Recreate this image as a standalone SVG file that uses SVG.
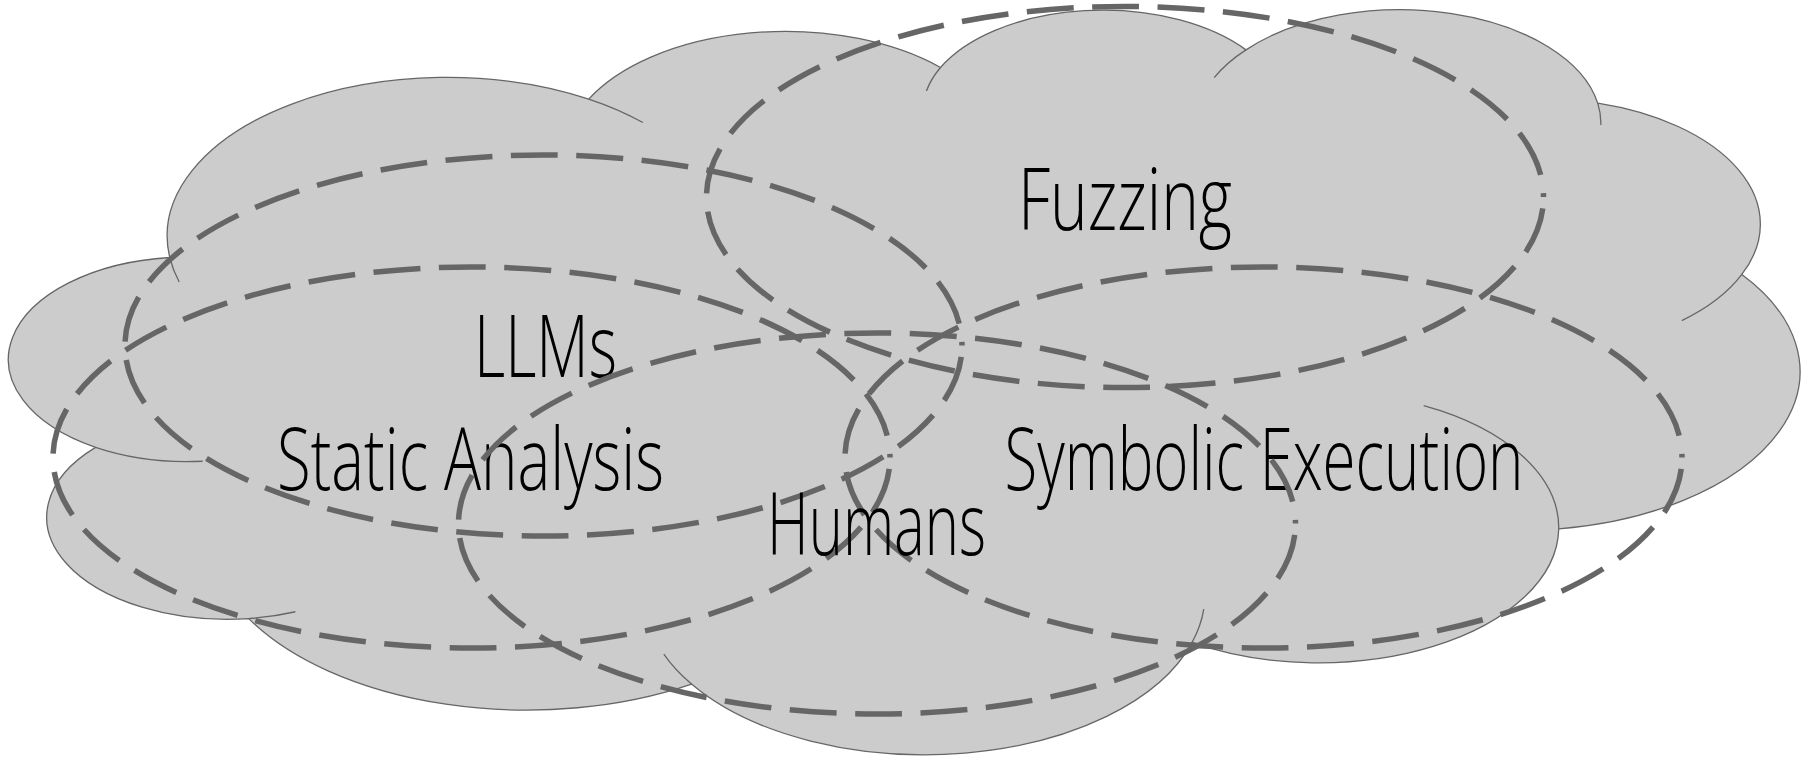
<svg xmlns="http://www.w3.org/2000/svg" width="1811" height="760" viewBox="0 0 1811 760">
  <style>
    .cloud-body { fill: #cccccc; stroke: #666666; stroke-width: 1.3; }
    .cloud-fold { fill: none; stroke: #666666; stroke-width: 1.3; }
    .set { fill: none; stroke: #666666; stroke-width: 5.5; stroke-dasharray: 47 18.5; stroke-dashoffset: 54; stroke-linecap: butt; }
    .label { font-family: "Open Sans", "Liberation Sans", sans-serif; font-weight: 300; font-size: 87px; fill: #000000; }
  </style>

  <!-- background cloud, built in a 43200 x 43200 shape space -->
  <g id="cloud" transform="translate(8 9.5) scale(0.041481 0.017257)">
    <path class="cloud-body" vector-effect="non-scaling-stroke" d="M3900 14370
      A6753 9190 0 0 1 14000 5192
      A5333 7267 0 0 1 22480 3360
      A4365 5945 0 0 1 29845 2340
      A4857 6595 0 0 1 38324 5426
      A5333 7273 0 0 1 41798 15354
      A6775 9220 0 0 1 37384 30097
      A5785 7867 0 0 1 28545 36675
      A6752 9215 0 0 1 16478 39090
      A7720 10543 0 0 1 5803 35296
      A4360 5918 0 0 1 2111 25374
      A4345 5945 0 0 1 3900 14370Z"/>
    <path class="cloud-fold" vector-effect="non-scaling-stroke" d="M4693 26177 A4345 5945 0 0 1 2111 25374
      M6928 34899 A4360 5918 0 0 1 5803 35296
      M16478 39090 A6752 9215 0 0 1 15810 37350
      M28827 34751 A6752 9215 0 0 1 28545 36675
      M34129 22954 A5785 7867 0 0 1 37384 30097
      M41798 15354 A5333 7273 0 0 1 40351 18030
      M38324 5426 A4857 6595 0 0 1 38400 6690
      M29078 3952 A4857 6595 0 0 1 29845 2340
      M22141 4720 A4365 5945 0 0 1 22480 3360
      M14000 5192 A6753 9190 0 0 1 15305 6551
      M4127 15789 A6753 9190 0 0 1 3900 14370"/>
  </g>

  <!-- overlapping technique sets -->
  <g id="fuzzing">
    <text class="label" x="1018" y="229.5" textLength="214" lengthAdjust="spacingAndGlyphs">Fuzzing</text>
    <path class="set" d="M1543.5 197 A418.5 190.5 0 1 1 706.5 197 A418.5 190.5 0 1 1 1543.5 197Z"/>
  </g>
  <g id="llms">
    <text class="label" x="474" y="376.5" textLength="143" lengthAdjust="spacingAndGlyphs">LLMs</text>
    <path class="set" d="M962 345.5 A418.5 190.5 0 1 1 125 345.5 A418.5 190.5 0 1 1 962 345.5Z"/>
  </g>
  <g id="static-analysis">
    <text class="label" x="277" y="490" textLength="387" lengthAdjust="spacingAndGlyphs">Static Analysis</text>
    <path class="set" d="M890 457.5 A418.5 190.5 0 1 1 53 457.5 A418.5 190.5 0 1 1 890 457.5Z"/>
  </g>
  <g id="symbolic-execution">
    <text class="label" x="1004.5" y="490" textLength="519" lengthAdjust="spacingAndGlyphs">Symbolic Execution</text>
    <path class="set" d="M1682 457.5 A418.5 190.5 0 1 1 845 457.5 A418.5 190.5 0 1 1 1682 457.5Z"/>
  </g>
  <g id="humans">
    <text class="label" x="767" y="555" textLength="219" lengthAdjust="spacingAndGlyphs">Humans</text>
    <path class="set" d="M1295.5 523.5 A418.5 190.5 0 1 1 458.5 523.5 A418.5 190.5 0 1 1 1295.5 523.5Z"/>
  </g>
</svg>
